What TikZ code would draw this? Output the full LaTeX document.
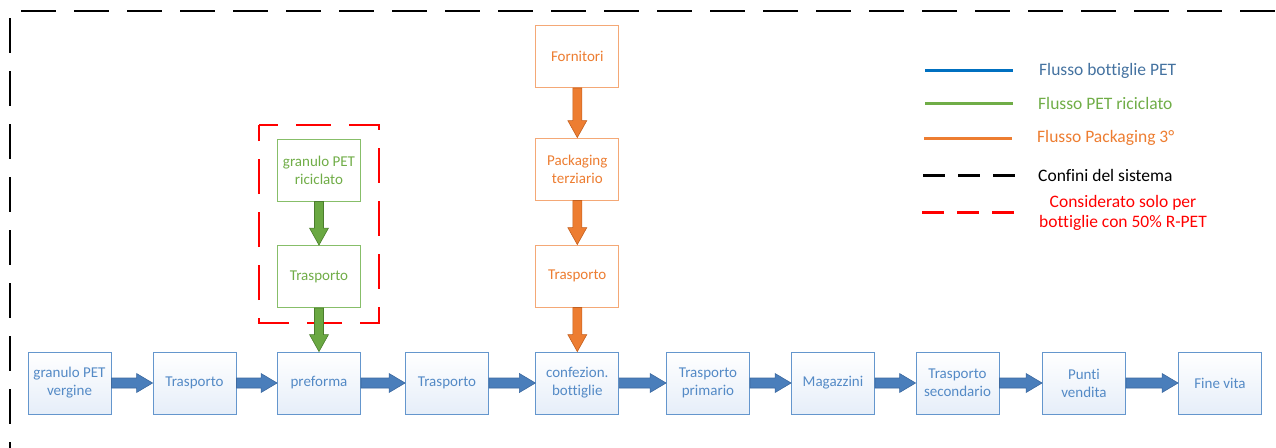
\documentclass[tikz,border=0pt]{standalone}
\usepackage{fontspec}
\setmainfont[Ligatures=NoCommon]{Carlito}
\usetikzlibrary{calc}
\definecolor{bbord}{RGB}{100,150,205}
\definecolor{btext}{RGB}{84,138,198}
\definecolor{bfill}{RGB}{230,238,249}
\definecolor{barrfill}{RGB}{74,126,187}
\definecolor{barrline}{RGB}{60,105,160}
\definecolor{gbord}{RGB}{135,190,105}
\definecolor{gtext}{RGB}{112,173,71}
\definecolor{garrfill}{RGB}{106,168,66}
\definecolor{garrline}{RGB}{75,125,45}
\definecolor{obord}{RGB}{244,168,118}
\definecolor{otext}{RGB}{237,125,49}
\definecolor{oarrfill}{RGB}{237,125,49}
\definecolor{oarrline}{RGB}{195,95,30}
\definecolor{legblue}{RGB}{0,112,192}
\definecolor{legbluetext}{RGB}{68,114,160}
\definecolor{leggreen}{RGB}{112,173,71}
\definecolor{legorange}{RGB}{237,125,49}
\definecolor{legred}{RGB}{255,0,0}

\newcommand\harr[3]{%
 \draw[#3] ($(#1.east)+(0,-5)$) -- ($(#2.west)+(-16,-5)$) -- ($(#2.west)+(-16,-9.5)$) -- (#2.west)
   -- ($(#2.west)+(-16,9.5)$) -- ($(#2.west)+(-16,5)$) -- ($(#1.east)+(0,5)$) -- cycle;}
\newcommand\varr[3]{%
 \draw[#3] ($(#1.south)+(-4.5,0)$) -- ($(#2.north)+(-4.5,-17)$) -- ($(#2.north)+(-9.5,-17)$) -- (#2.north)
   -- ($(#2.north)+(9.5,-17)$) -- ($(#2.north)+(4.5,-17)$) -- ($(#1.south)+(4.5,0)$) -- cycle;}

\tikzset{
 box/.style={minimum width=83pt, minimum height=62pt, inner sep=2pt, align=center,
   line width=0.9pt, font=\fontsize{15}{18}\selectfont},
 bluebox/.style={box, draw=bbord, text=btext, top color=white, bottom color=bfill},
 greenbox/.style={box, draw=gbord, text=gtext, fill=white},
 orangebox/.style={box, draw=obord, text=otext, fill=white},
 bluearrow/.style={fill=barrfill, draw=barrline, line width=0.6pt},
 arrshadow/.style={fill=black!30, draw=none, opacity=0.35, shift={(1.5,2)}},
 greenarrow/.style={fill=garrfill, draw=garrline, line width=0.6pt},
 orangearrow/.style={fill=oarrfill, draw=oarrline, line width=0.6pt},
 legtext/.style={anchor=west, inner sep=0pt, font=\fontsize{17.5}{20}\selectfont},
 legline/.style={line width=3pt},
 bounddash/.style={line width=2pt, dash pattern=on 35pt off 18pt},
}

\begin{document}
\begin{tikzpicture}[x=1pt,y=-1pt]
\useasboundingbox (0,0) rectangle (1276,447);

% system boundary
\draw[bounddash, black] (21,11) -- (1290,11);
\draw[bounddash, black] (10,18) -- (10,460);

% red dashed region
\draw[line width=2pt, legred, dash pattern=on 35pt off 18pt, dash phase=16pt]
  (259,125) -- (379,125) -- (379,323) -- (259,323) -- cycle;

% bottom row
\node[bluebox] (b1) at (69.5,383) {granulo PET\\vergine};
\node[bluebox] (b2) at (194.5,383) {Trasporto};
\node[bluebox] (b3) at (319,383) {preforma};
\node[bluebox] (b4) at (447,383) {Trasporto};
\node[bluebox] (b5) at (577.3,383) {confezion.\\bottiglie};
\node[bluebox] (b6) at (708,383) {Trasporto\\primario};
\node[bluebox] (b7) at (833,383) {Magazzini};
\node[bluebox] (b8) at (957.5,383) {Trasporto\\secondario};
\node[bluebox] (b9) at (1084,383) {Punti\\vendita};
\node[bluebox] (b10) at (1220,383) {Fine vita};

% green column
\node[greenbox] (g1) at (319,170) {granulo PET\\riciclato};
\node[greenbox] (g2) at (319,276.5) {Trasporto};

% orange column
\node[orangebox] (o1) at (577.3,56.5) {Fornitori};
\node[orangebox] (o2) at (577.3,169) {Packaging\\terziario};
\node[orangebox] (o3) at (577.3,276) {Trasporto};

% blue arrows
\foreach \a/\b in {b1/b2,b2/b3,b3/b4,b4/b5,b5/b6,b6/b7,b7/b8,b8/b9,b9/b10}{
  \harr{\a}{\b}{arrshadow}
  \harr{\a}{\b}{bluearrow}
}

% green arrows
\varr{g1}{g2}{greenarrow}
\varr{g2}{b3}{greenarrow}

% orange arrows
\varr{o1}{o2}{orangearrow}
\varr{o2}{o3}{orangearrow}
\varr{o3}{b5}{orangearrow}

% legend
\draw[legline, legblue] (925,70.5) -- (1013,70.5);
\draw[legline, leggreen] (925,103) -- (1013,103);
\draw[legline, legorange] (924,138) -- (1012,138);
\draw[legline, black, dash pattern=on 22pt off 13pt] (923,175) -- (1016,175);
\draw[legline, legred, dash pattern=on 22pt off 13pt] (922,212) -- (1015,212);

\node[legtext, text=legbluetext] (l1) at (1039,70.5) {Flusso bottiglie PET};
\node[legtext, text=leggreen] (l2) at (1038,103) {Flusso PET riciclato};
\node[legtext, text=legorange] (l3) at (1037,138) {Flusso Packaging 3°};
\node[legtext, text=black] (l4) at (1038,175) {Confini del sistema};
\node[inner sep=0pt, align=center, text=legred, font=\fontsize{17.5}{20}\selectfont] (l5) at (1123,213) {Considerato solo per\\bottiglie con 50\% R-PET};
\end{tikzpicture}
\end{document}
